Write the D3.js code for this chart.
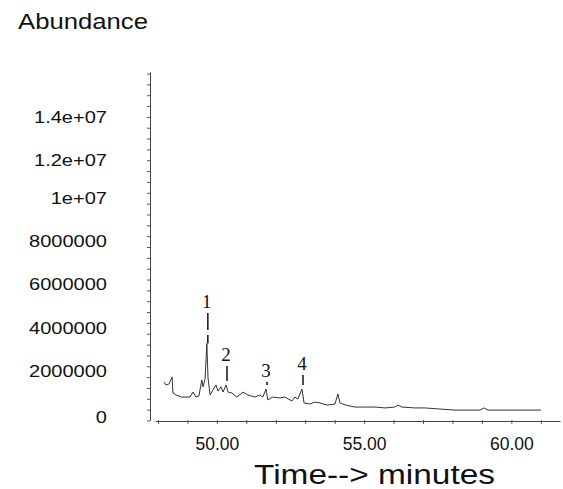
<!DOCTYPE html>
<html>
<head>
<meta charset="utf-8">
<script src="https://cdn.jsdelivr.net/npm/d3@7"></script>
<style>
  body { margin: 0; background: #fff; }
  text { font-family: Arial, "Liberation Sans", sans-serif; fill: #111; }
</style>
</head>
<body>
<div id="chart"></div>
<script>
// retention time (min) and abundance
const times = [48.20, 48.27, 48.37, 48.44, 48.48, 48.51, 48.61, 48.81, 49.09, 49.19,
  49.29, 49.39, 49.49, 49.53, 49.60, 49.66, 49.70, 49.77, 49.87, 49.97,
  50.04, 50.14, 50.21, 50.31, 50.38, 50.51, 50.68, 50.89, 51.05, 51.29,
  51.46, 51.56, 51.67, 51.73, 51.90, 52.14, 52.31, 52.55, 52.65, 52.75,
  52.89, 52.96, 53.16, 53.33, 53.50, 53.74, 54.01, 54.11, 54.18, 54.38,
  54.69, 55.03, 55.37, 55.71, 56.04, 56.15, 56.28, 56.72, 57.06, 57.57,
  58.08, 58.59, 58.93, 59.07, 59.20, 59.95, 61.00];
const abundance = [1780000, 1640000, 1680000, 1870000, 2010000, 1270000, 1180000, 1080000, 1080000, 1310000,
  1080000, 1130000, 1870000, 1550000, 1910000, 3550000, 1960000, 1180000, 1410000, 1640000,
  1360000, 1550000, 1310000, 1640000, 1310000, 1270000, 1080000, 1310000, 1180000, 1080000,
  1180000, 1080000, 1450000, 950000, 1080000, 1040000, 1080000, 900000, 1080000, 990000,
  1450000, 810000, 760000, 850000, 810000, 710000, 760000, 1220000, 810000, 710000,
  620000, 620000, 620000, 580000, 620000, 710000, 620000, 580000, 580000, 530000,
  480000, 480000, 480000, 580000, 480000, 480000, 480000];

// numbered peaks: label, peak time, top of the marker line (abundance)
const peakLabels = ["1", "2", "3", "4"];
const peakTimes = [49.66, 50.31, 51.67, 52.89];
const peakMarkTop = [4960000, 2510000, 1780000, 2100000];

const yTicks = [0, 2000000, 4000000, 6000000, 8000000, 10000000, 12000000, 14000000];
const yTickLabels = ["0", "2000000", "4000000", "6000000", "8000000", "1e+07", "1.2e+07", "1.4e+07"];
const xTicks = [50, 55, 60];

const width = 563, height = 489;
const svg = d3.select("#chart").append("svg").attr("width", width).attr("height", height);

const x = d3.scaleLinear().domain([47.9, 61.65]).range([155, 560]);
const y = d3.scaleLinear().domain([0, 16070000]).range([420.5, 72]);

// y axis
const yAxis = svg.append("g").attr("transform", "translate(150,0)")
  .call(d3.axisLeft(y).tickValues(d3.range(0, 16000001, 500000)).tickSize(3).tickSizeOuter(0).tickFormat(""));
yAxis.select(".domain").attr("stroke", "#444");
yAxis.selectAll(".tick line").attr("stroke", "#555");

const yLab = svg.append("g").attr("transform", "translate(150,0)")
  .call(d3.axisLeft(y).tickValues(yTicks).tickSize(0).tickFormat((d, i) => yTickLabels[i]));
yLab.select(".domain").remove();
yLab.selectAll("text")
  .attr("x", -43 / 1.18).attr("y", d => d >= 12000000 ? 0 : (d === 0 ? -3 : -6)).attr("dy", "0.32em")
  .attr("transform", "scale(1.18,1)")
  .style("font-size", "17px").attr("fill", "#111");

// x axis
const xAxis = svg.append("g").attr("transform", "translate(0,421)")
  .call(d3.axisBottom(x).tickValues(d3.range(48, 62, 1)).tickSize(3).tickSizeOuter(0).tickFormat(""));
xAxis.select(".domain").attr("stroke", "#444");
xAxis.selectAll(".tick line").attr("stroke", "#555").attr("y1", -1);

const xLab = svg.append("g").attr("transform", "translate(0,421)")
  .call(d3.axisBottom(x).tickValues(xTicks).tickSize(0).tickFormat(d3.format(".2f")));
xLab.select(".domain").remove();
xLab.selectAll("text").attr("y", 17).attr("dy", "0.71em")
  .style("font-size", "17.5px").attr("fill", "#111");

// chromatogram trace
const line = d3.line().x((d, i) => x(times[i])).y(d => y(d));
svg.append("path").datum(abundance)
  .attr("d", line)
  .attr("fill", "none").attr("stroke", "#333").attr("stroke-width", 1);

// peak markers
peakLabels.forEach((lab, i) => {
  const px = x(peakTimes[i]);
  const idx = times.indexOf(peakTimes[i]);
  const top = y(peakMarkTop[i]);
  const bottom = i === 0 ? y(abundance[idx]) : y(abundance[idx]) - 4;
  svg.append("line")
    .attr("x1", px + 1).attr("x2", px + 1).attr("y1", top).attr("y2", bottom)
    .attr("stroke", "#111").attr("stroke-width", 1.5)
    .attr("stroke-dasharray", i === 0 ? "17,5" : null);
  svg.append("text")
    .attr("x", px).attr("y", top - 5)
    .attr("text-anchor", "middle")
    .style("font-family", "'Liberation Serif', 'Times New Roman', serif")
    .style("font-size", "19px")
    .text(lab);
});

// titles
svg.append("text").attr("x", 18).attr("y", 29)
  .attr("textLength", 130).attr("lengthAdjust", "spacingAndGlyphs")
  .style("font-size", "22px").text("Abundance");

svg.append("text").attr("x", 254).attr("y", 484)
  .attr("textLength", 241).attr("lengthAdjust", "spacingAndGlyphs")
  .style("font-size", "27px").text("Time--> minutes");
</script>
</body>
</html>
